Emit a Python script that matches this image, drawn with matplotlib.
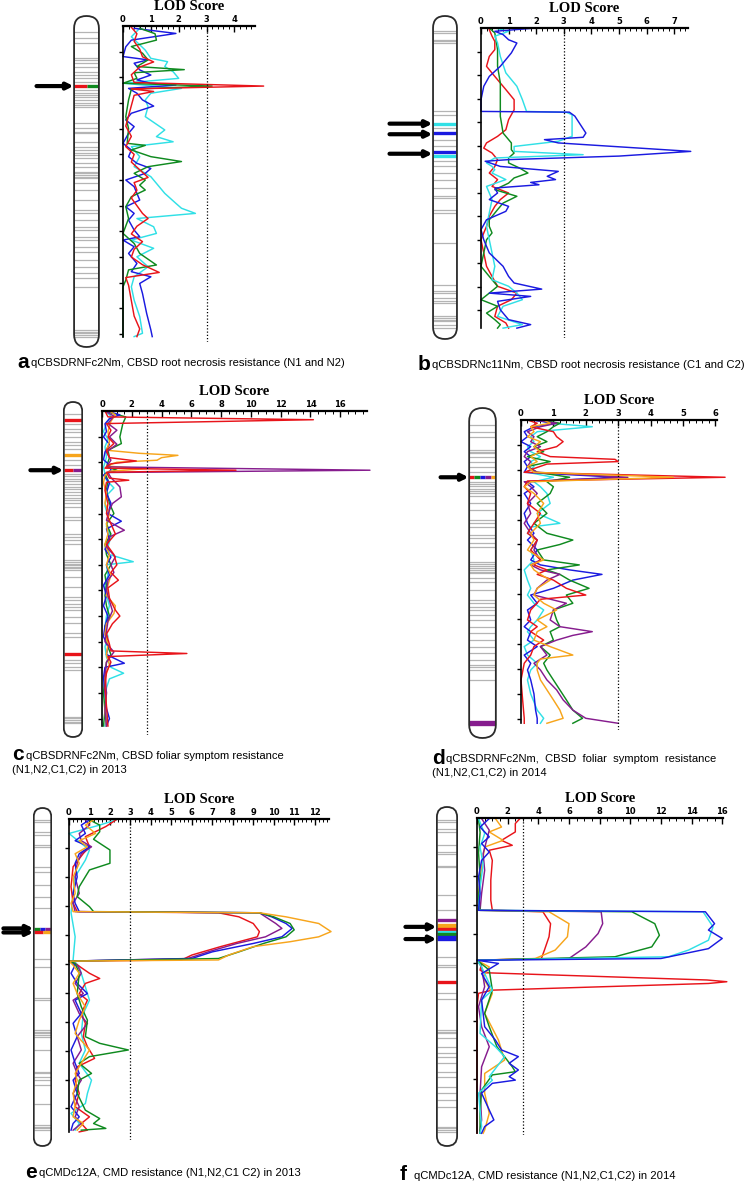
import matplotlib
matplotlib.use('Agg')
import matplotlib.pyplot as plt
from matplotlib.patches import FancyBboxPatch
from matplotlib.ticker import MultipleLocator, AutoMinorLocator
import numpy as np

W, H = 750, 1184

RED = '#e8141a'
GREEN = '#0f8a1f'
BLUE = '#1a1ae0'
CYAN = '#30e0e6'
PURPLE = '#861c8e'
ORANGE = '#f7a51c'

# ---- panel a : (cM, LOD) pairs ----
a_red = [(0.5,0.3),(3,0.5),(6,0.4),(9,0.6),(12,0.7),(14,1.1),(16,0.6),(19,0.3),(22,0.4),(23.4,5.05),
         (24.5,0.3),(25.5,1.1),(27,0.4),(31,0.3),(35,0.2),(39,0.1),(43,0.3),(47,0.1),(50,0.4),(53,0.3),
         (56,0.6),(59,0.9),(61,0.4),(64,0.5),(67,0.3),(70,0.5),(73,0.7),(75,0.9),(78,0.5),(81,0.3),
         (84,0.7),(87,0.4),(90,0.3),(93,0.7),(96,1.3),(98,0.1),(101,0.2),(107,0.3),(113,0.4),(118,0.6),(121,0.5)]
a_green = [(0.9,0.6),(3,1.15),(5.5,1.2),(8,0.3),(10.6,0.7),(13.2,0.9),(15.8,0.5),(17,2.2),(18.2,0.4),
           (20.4,0.5),(22.3,0.0),(23.4,3.2),(24.6,0.3),(28.8,0.2),(35.3,0.1),(40,0.2),(45.7,0.15),(46.5,0.8),
           (48.3,0.3),(50.9,1.0),(52.8,2.1),(54.8,0.9),(57.4,0.4),(60,0.8),(62,0.6),(63.9,0.8),(66.5,0.3),
           (70.4,0.1),(75,0.2),(80.8,0.0),(84.7,0.4),(88.6,0.6),(93.1,1.2),(95,0.2),(99,0.1),(101.6,0.0),(121,0.0)]
a_blue = [(0.9,0.4),(2.9,1.9),(5.5,0.3),(8.1,0.1),(11.9,0.0),(13.2,0.9),(14.5,0.4),(17.1,0.6),(19.1,1.0),
          (21.0,0.5),(22.3,1.0),(23.0,1.9),(24.3,0.2),(26.2,0.5),(28.8,0.7),(31.2,1.1),(34.0,0.3),(36.6,0.1),
          (39.2,0.4),(41.8,0.2),(45.7,0.0),(48.3,0.3),(50.9,0.2),(53.5,0.5),(55.5,1.0),(57.4,0.8),(60,0.1),
          (62.6,0.4),(67.8,0.6),(70.4,0.1),(73,0.4),(75.6,0.2),(79.5,0.4),(82.1,0.6),(83.4,0.0),(86,0.4),
          (88.6,0.2),(92.5,0.5),(95.7,0.3),(97.7,1.0),(100.3,0.6),(104.2,0.7),(112,0.85),(118.4,1.0),(121,1.05)]
a_cyan = [(0.9,0.6),(4.2,0.3),(9.4,0.8),(12.6,1.0),(13.9,1.6),(15.8,1.5),(17.8,1.8),(20.4,2.0),(22.3,0.0),
          (24.3,2.1),(26.2,1.0),(28.8,0.8),(31.4,0.9),(35.3,0.8),(40.5,1.5),(43.1,1.2),(45.1,1.8),(47.0,0.3),
          (50.9,0.6),(54.8,0.4),(58.7,1.0),(61.3,1.2),(65.2,1.5),(69.1,1.9),(71.0,2.1),(73.0,2.6),(75.0,0.5),
          (78.2,1.1),(80.8,1.2),(83.4,0.3),(86.6,1.1),(89.9,0.5),(93.8,0.9),(97.7,0.4),(101.6,0.3),(106.8,0.4),
          (113.2,0.6),(119.7,0.7),(121,0.4)]
a_markers = [2.2,4.8,6.8,12.6,13.2,14.5,15.8,17.8,19.1,20.4,21.7,24.9,26,26.9,27.8,28.8,29.9,30.8,31.4,
             37.9,39.9,41.2,41.8,45.1,47.0,48.3,49.6,50.3,51.6,53.5,54.8,56.8,57.4,58.1,58.7,59.4,61.3,63.9,
             67.8,71.7,73.0,75.6,78.2,79.5,82.1,83.4,86.0,87.9,91.2,93.8,96.4,98.3,101.6,118.4,119.1,119.7,120.4,121.0]

# ---- panel b ----
b_red = [(0.7,0.3),(3.5,0.4),(5.7,0.5),(9.2,0.5),(12.1,0.3),(16.3,0.2),(20.6,0.5),(26.2,0.9),(30.5,1.2),
         (34.8,1.2),(39.0,1.0),(43.3,0.9),(46.1,0.6),(48.9,0.2),(51.1,0.1),(53.2,0.4),(56.0,0.6),(58.9,0.5),
         (61.7,0.3),(64.5,0.6),(67.4,0.4),(70.2,1.0),(73.0,0.7),(75.9,0.5),(80.1,0.3),(84.4,0.2),(87.2,0.1),
         (90.1,0.0),(95.7,0.1),(101.4,0.2),(105.7,0.4),(109.9,0.6),(112.8,1.3),(115.6,1.1),(118.4,0.6),
         (122.7,0.5),(125.5,0.9),(127.7,1.0)]
b_green = [(0,0.3),(2.1,0.5),(9.2,0.6),(16.3,0.6),(23.4,0.7),(30.5,0.7),(37.6,0.7),(44.7,0.8),(48.9,1.1),
           (51.8,1.1),(53.2,1.2),(55.3,1.0),(57.4,1.0),(59.6,1.4),(61.7,1.7),(63.8,1.2),(66.0,1.0),(68.8,0.5),
           (71.6,1.3),(74.5,0.8),(77.3,0.6),(81.6,0.3),(84.4,0.3),(87.2,0.4),(90.1,0.2),(95.7,0.1),(101.4,0.0),
           (105.7,0.3),(109.9,0.6),(112.8,0.3),(115.6,0.0),(118.4,0.6),(121.3,0.2),(124.1,0.5),(126.2,0.7),(127.7,0.6)]
b_blue = [(0,2.0),(1.4,0.5),(2.8,0.8),(5.0,1.0),(6.4,1.3),(10.6,1.1),(16.3,0.7),(20.6,0.3),(24.8,0.1),
          (30.5,0.0),(35.5,0.0),(35.8,3.2),(37.5,3.4),(44.7,3.8),(46.5,3.7),(47.5,2.3),(48.9,2.8),(52.5,7.6),
          (54.5,5.0),(56.0,1.0),(56.7,0.15),(58.9,0.7),(61.0,2.8),(63.1,2.4),(64.5,2.7),(65.7,1.8),(66.7,2.1),
          (68.1,0.5),(70.2,0.6),(73.0,0.3),(75.9,1.0),(78.0,0.9),(81.6,0.2),(85.8,0.0),(90.1,0.1),(95.7,0.3),
          (101.4,0.8),(105.7,1.0),(108.5,1.2),(111.1,2.2),(112.8,0.3),(114.2,1.8),(116.3,0.6),(119.9,0.7),
          (124.1,1.0),(126.2,1.8),(127.7,1.3)]
b_cyan = [(0,0.5),(1.4,1.0),(3.5,0.5),(6.4,0.6),(12.1,0.7),(19.1,0.9),(24.8,1.3),(30.5,1.5),(35.5,1.65),
          (35.9,3.1),(36.9,3.3),(46.1,3.3),(48.2,2.8),(50.4,1.2),(52.5,1.2),(53.9,3.7),(55.3,0.5),(57.4,0.2),
          (58.9,0.4),(60.3,0.5),(61.7,0.4),(64.5,0.9),(67.4,0.2),(70.2,0.3),(73.0,0.4),(78.7,0.3),(84.4,0.2),
          (90.1,0.3),(95.7,0.4),(101.4,0.5),(107.1,0.4),(109.9,1.0),(112.8,1.3),(115.6,1.5),(118.4,0.8),
          (122.7,0.6),(126.2,1.5),(127.7,0.8)]
b_markers = [1.4,2.1,5.0,5.7,6.4,35.5,36.9,42.6,47.5,50.4,56.7,58.9,61.7,64.5,68.1,71.6,72.3,77.3,78.7,
             91.5,109.2,112.1,112.8,114.9,116.3,117.0,122.7,123.4,124.1,124.8,126.2,127.7]

# ---- panel c ----
c_red = [(0,0.2),(2.3,0.4),(3.4,14.2),(4.9,0.3),(7.5,0.6),(10.1,0.4),(12.7,0.8),(15.3,0.3),(18.2,0.5),
         (19.5,2.3),(20.6,0.6),(22.3,0.2),(23.1,9.0),(23.9,0.3),(26.2,0.5),(27.0,1.8),(27.8,0.3),(31,0.2),
         (36.1,0.4),(40,0.3),(44,0.6),(48,0.9),(52,0.3),(56,0.8),(60,1.0),(63,0.6),(66,1.1),(69,0.4),(73,0.5),
         (77.7,0.9),(80,1.2),(83,0.7),(87,0.3),(91,0.5),(93.6,0.6),(94.6,5.7),(95.8,0.4),(98,0.6),(102,0.3),
         (108,0.2),(115,0.3),(122.9,0.4)]
c_green = [(0,0.1),(2.3,1.6),(4.9,1.4),(7.5,1.3),(10.1,1.2),(12.7,1.3),(15.3,0.4),(18.2,0.5),(21.8,0.3),
           (23.1,1.0),(24.4,0.2),(27,0.4),(31,0.3),(36,0.5),(40,0.8),(44,0.3),(48,0.6),(52,0.2),(56,0.3),
           (60,0.6),(64,0.2),(68,0.3),(72,0.2),(76,0.3),(80,0.5),(84,0.2),(88,0.3),(92,0.4),(95,0.6),(98,0.3),
           (103,0.2),(110,0.1),(117,0.2),(122.9,0.1)]
c_blue = [(0,0.3),(1.5,1.2),(3,0.5),(5,0.2),(8,0.3),(10.1,0.1),(13,0.5),(16,0.2),(19,0.1),(21,0.5),(23.1,0.6),
          (25,0.1),(28,0.5),(32,0.3),(36,0.6),(40,0.4),(43,1.3),(46,0.3),(50,0.5),(54,0.2),(57,0.6),(60,0.3),
          (64,0.5),(68,0.1),(72,0.3),(76,0.1),(80,0.4),(84,0.2),(88,0.1),(92,0.4),(95,0.3),(98.4,1.5),(100,0.2),
          (104,0.1),(110,0.2),(116,0.3),(120,0.5),(122.9,0.3)]
c_cyan = [(0,0.2),(2,0.6),(5,0.3),(8,0.1),(11,0.4),(14,0.2),(18,0.3),(22,0.1),(24.4,0.2),(27,0.3),(30,0.8),
          (33,0.3),(37,0.2),(41,0.4),(45,0.3),(49,0.6),(53,0.4),(56,0.5),(58.8,2.1),(60,0.3),(64,0.4),(68,0.2),
          (72,0.3),(76,0.5),(80,0.3),(84,0.2),(88,0.4),(92,0.2),(96,0.3),(100,0.6),(102.3,1.45),(104.5,0.5),
          (108,0.3),(114,0.2),(120,0.3),(122.9,0.2)]
c_purple = [(0,0.2),(2,0.8),(4.9,0.4),(7.5,1.0),(10.1,0.5),(13,1.0),(16,0.3),(19.2,0.6),(21.8,0.3),(23.1,18.0),
            (24.0,0.4),(26,0.6),(29.6,1.2),(33.5,1.3),(36.1,0.7),(38.7,0.5),(42.6,0.3),(46.5,1.5),(49.1,0.5),
            (53,0.3),(56.9,0.9),(60,0.6),(63,0.8),(66,0.4),(70,0.3),(74,0.5),(78,0.7),(82,0.4),(86,0.3),(90,0.2),
            (94,0.8),(98,0.3),(103,0.2),(110,0.3),(117,0.2),(122.9,0.3)]
c_orange = [(0,0.5),(1.5,0.9),(4,0.6),(8,0.4),(12,0.5),(15.3,0.3),(16.5,2.5),(17.3,5.1),(18.2,4.0),(19.2,3.7),
            (20.0,1.0),(21.5,0.3),(22.5,3.0),(23.5,0.5),(25,0.2),(28,0.1),(32,0.3),(36,0.2),(40,0.5),(44,0.3),
            (48,0.4),(52,0.2),(56,0.5),(60,0.3),(64,0.6),(68,0.4),(72,0.3),(76,0.9),(79,0.8),(83,0.3),(87,0.2),
            (91,0.4),(95,0.3),(99,0.5),(104,0.2),(110,0.3),(117,0.2),(122.9,0.3)]
c_markers = [1.0,4.9,6.9,8.2,10.1,12.1,13.4,14.7,19.2,21.2,24.4,25.5,26.5,27.5,28.6,29.6,30.6,31.7,32.7,33.8,
             34.8,35.8,37.4,41.3,42.6,47.8,49.1,50.4,51.7,58.2,58.8,59.5,60.1,60.8,61.4,62.1,64.7,68.6,72.5,
             73.8,75.1,76.4,77.7,80.3,82.9,86.8,88.1,97.1,98.4,99.7,101.0,119.2,119.9,120.5,121.2,121.8]

# ---- panel d ----
d_red = [(0,0.2),(1.3,0.5),(2.7,0.3),(4.7,1.0),(6.7,1.1),(8.7,1.3),(10.7,1.1),(12.7,0.5),(14.7,0.9),(15.8,2.9),
         (16.7,3.0),(17.7,0.8),(19.5,0.4),(21,0.1),(23.0,6.3),(24.5,0.2),(26.8,0.1),(29.5,0.3),(33.5,0.2),
         (37.5,0.6),(41.5,0.4),(45.5,0.2),(48.2,0.5),(52.2,0.3),(56.2,0.6),(58.2,0.4),(60.2,0.8),(62,0.5),
         (64.3,1.0),(67.6,1.4),(70.3,2.0),(72,0.6),(76.3,0.3),(80.3,0.2),(83,0.5),(85,0.3),(88.4,0.7),(91,0.4),
         (94.4,0.3),(97.7,0.1),(104.4,0.0),(112.4,0.05),(119.8,0.1),(121.8,0.1)]
d_green = [(0,0.6),(1.3,1.2),(2.7,1.0),(4.7,0.8),(6.7,0.5),(8.7,0.8),(10.7,0.4),(12.7,0.7),(14.7,0.2),(16.7,0.9),
           (18.7,0.2),(21,0.5),(23.0,1.5),(24.8,0.8),(26.8,1.0),(29.5,0.9),(33.5,0.5),(37.5,0.8),(41.5,0.4),
           (45.5,0.8),(48.2,1.6),(50,1.2),(52.2,0.5),(56.2,0.7),(58.2,1.8),(60.2,0.8),(62,1.2),(64.3,1.5),
           (67.6,2.1),(70.3,1.4),(73.6,1.6),(76.3,1.0),(80.3,1.1),(83,1.2),(85,0.9),(88.4,1.0),(91,0.6),(94.4,0.9),
           (97.7,0.7),(100.4,0.8),(104.4,1.0),(108.4,1.2),(112.4,1.4),(116.5,1.6),(119.8,1.9),(121.8,1.6)]
d_blue = [(0,0.3),(1.3,1.1),(2.7,0.4),(4.7,0.1),(6.7,0.2),(8.7,0.0),(10.7,0.3),(12.7,0.1),(14.7,0.3),(16.7,0.1),
          (18.7,0.2),(21,0.1),(23.0,3.0),(24.8,0.2),(26.8,0.4),(29.5,0.1),(33.5,0.3),(37.5,0.1),(41.5,0.2),
          (45.5,0.4),(48.2,0.2),(52.2,0.5),(56.2,0.3),(58.2,0.6),(60.2,1.5),(62,2.5),(64.3,1.6),(67.6,1.0),
          (70.3,0.3),(73.6,0.5),(76.3,0.2),(80.3,0.3),(83,0.1),(85,0.3),(88.4,0.2),(91,0.5),(94.4,0.1),(97.7,0.3),
          (100.4,0.2),(104.4,0.3),(110,0.4),(116.5,0.45),(119.8,0.5),(121.8,0.5)]
d_cyan = [(0,0.5),(1.3,0.9),(2.7,2.2),(4.7,0.5),(6.7,0.3),(8.7,0.4),(10.7,0.2),(12.7,0.3),(14.7,0.6),(16.7,0.3),
          (18.7,0.4),(21,0.2),(23.0,1.0),(24.8,0.4),(26.8,0.6),(29.5,0.8),(33.5,0.9),(37.5,0.5),(41.5,1.2),
          (43,0.3),(45.5,0.2),(48.2,0.5),(52.2,0.3),(56.2,0.4),(60.2,0.1),(64.3,0.2),(67.6,0.3),(70.3,0.2),
          (73.6,0.4),(76.3,0.7),(80.3,0.5),(83,0.3),(85,0.2),(88.4,0.4),(91,0.1),(94.4,0.2),(97.7,0.5),(100.4,0.3),
          (104.4,0.2),(110,0.3),(116.5,0.5),(119.8,0.7),(121.8,0.6)]
d_purple = [(0,0.4),(1.3,1.1),(2.7,0.6),(4.7,0.2),(6.7,0.4),(8.7,0.3),(10.7,0.6),(12.7,0.2),(14.7,0.1),
            (16.7,0.3),(18.7,0.2),(21,0.5),(23.0,3.3),(24.8,0.1),(26.8,0.3),(29.5,0.5),(33.5,0.2),(37.5,0.3),
            (41.5,0.1),(45.5,0.3),(48.2,0.5),(52.2,0.4),(56.2,0.6),(58.2,0.3),(60.2,0.6),(62,1.2),(64.3,0.8),
            (67.6,0.5),(70.3,0.4),(73.6,1.4),(76.3,1.0),(80.3,0.9),(83,1.2),(85,2.2),(86.5,1.6),(88.4,1.1),
            (91,0.6),(94.4,0.8),(97.7,0.4),(100.4,0.6),(104.4,0.8),(108.4,1.1),(112.4,1.3),(116.5,1.6),
            (119.8,2.0),(121.8,3.0)]
d_orange = [(0,0.7),(1.3,0.9),(2.7,0.3),(4.7,0.4),(6.7,0.2),(8.7,0.6),(10.7,0.4),(12.7,0.6),(14.7,0.3),
            (16.7,0.5),(18.7,0.2),(21,0.4),(23.0,4.7),(24.8,0.3),(26.8,0.1),(29.5,0.4),(33.5,0.7),(37.5,0.5),
            (41.5,0.6),(45.5,0.3),(48.2,0.4),(52.2,0.2),(56.2,0.7),(58.2,0.3),(60.2,0.4),(62,0.6),(64.3,0.9),
            (67.6,0.5),(70.3,0.4),(73.6,0.7),(76.3,1.1),(80.3,0.5),(83,0.8),(85,0.5),(88.4,0.4),(91,0.9),
            (94.4,1.6),(96,0.6),(97.7,0.5),(100.4,0.5),(104.4,0.6),(108.4,0.8),(112.4,1.0),(116.5,1.2),
            (119.8,1.3),(121.8,0.8)]
d_markers = [2.0,4.7,6.7,12.0,12.7,13.4,14.7,16.7,18.7,20.7,24.8,25.7,26.6,27.6,28.5,29.5,30.4,33.5,36.1,
             40.2,41.5,42.8,46.2,47.5,49.5,50.9,56.9,57.7,58.5,59.3,60.1,60.9,61.6,63.6,65.0,68.3,72.3,73.6,
             75.0,76.3,78.3,80.3,83.0,85.7,88.4,91.0,93.7,96.4,98.4,99.1,100.4,104.4]

# ---- panel e ----
e_red = [(0.3,2.3),(2.6,1.8),(6.1,0.8),(9.6,1.0),(11.9,0.7),(16.5,0.2),(23.4,0.1),(29.1,0.2),(32.0,0.4),
         (32.4,7.3),(33.8,8.3),(36.1,9.0),(38.9,9.3),(40.7,9.2),(44.1,7.4),(47,6.0),(48.7,5.5),(49.1,0.0),
         (49.9,0.3),(53.3,1.0),(55.1,1.5),(56.8,0.8),(60.3,0.5),(62.6,0.9),(67.2,0.6),(70.6,0.8),(75.2,0.7),
         (78.7,0.9),(82.7,1.25),(85.6,0.4),(90.2,0.3),(94.8,0.5),(99.4,0.3),(102.9,1.0),(105.2,0.6),(107.5,0.9),(108.1,0.5)]
e_green = [(0.3,1.0),(2.1,1.5),(4.4,1.5),(7,1.2),(10.7,2.0),(15.3,2.0),(17.6,1.0),(23.4,0.5),(26.8,0.4),
           (30.3,1.0),(32.0,1.2),(32.4,9.3),(33.8,10.0),(36.1,10.8),(38.3,11.0),(40.7,10.6),(43,9.5),(45.9,8.3),
           (48.2,7.3),(49.1,0.0),(49.9,0.3),(53.3,0.5),(60.3,0.4),(64.9,0.6),(69.5,0.9),(75.2,0.8),(77.5,1.5),
           (79.8,2.9),(82.1,1.0),(84.4,0.5),(87.9,1.1),(90.2,0.5),(94.8,0.4),(100.6,0.8),(103.5,1.5),(105.2,1.2),
           (106.9,1.8),(107.5,0.6)]
e_blue = [(0.3,1.0),(2.1,0.6),(5.0,0.8),(7.5,0.3),(9.6,1.0),(12,0.5),(15.3,0.3),(20,0.4),(25.7,0.2),(29.1,0.3),
          (32.0,0.5),(32.4,9.3),(33.8,9.9),(36.1,10.6),(37.8,10.9),(40.7,10.4),(43,9.0),(45.9,7.0),(48.2,6.0),
          (49.1,0.0),(50.5,0.3),(53.3,0.1),(56.8,0.4),(60.3,0.9),(62.6,0.3),(67.2,0.6),(70.6,0.2),(75.2,0.4),
          (79.8,0.1),(84.4,0.3),(87.9,0.5),(90.2,0.2),(94.8,0.4),(99.4,0.1),(102.9,0.5),(105.2,0.2),(107.5,0.1)]
e_cyan = [(0.3,2.3),(2.1,1.5),(5.0,0.0),(10.7,1.0),(14.2,0.8),(16.5,0.6),(19.9,0.3),(25.7,0.2),(32.4,0.1),
          (40.7,0.3),(48.7,0.2),(51.0,0.5),(58.0,0.8),(62.6,1.0),(67.2,0.7),(74.1,0.6),(79.8,0.8),(84.4,0.5),
          (90.2,1.1),(94.8,0.9),(98.3,0.8),(101.7,0.1),(105.2,0.5),(107.5,0.3)]
e_purple = [(0.3,0.8),(2.1,1.0),(5.0,0.5),(7.5,0.6),(9.6,1.1),(12,0.6),(15.3,0.4),(20,0.3),(25.7,0.5),(29.1,0.2),
            (32.0,0.3),(32.4,9.3),(33.8,9.6),(36.1,10.1),(37.8,10.4),(40.7,9.6),(43,8.2),(45.9,6.8),(48.2,5.8),
            (49.1,0.0),(50.5,0.4),(53.3,0.6),(56.8,0.3),(60.3,0.7),(62.6,0.2),(67.2,0.5),(70.6,0.9),(75.2,0.4),
            (79.8,0.6),(84.4,0.2),(87.9,0.4),(90.2,0.6),(94.8,0.2),(99.4,0.5),(102.9,0.3),(105.2,0.6),(107.5,0.2)]
e_orange = [(0.3,1.2),(2.1,0.8),(5.0,1.3),(7.5,0.5),(9.6,0.9),(12,0.3),(15.3,0.5),(20,0.2),(25.7,0.3),(29.1,0.1),
            (32.0,0.2),(32.4,9.3),(33.8,10.6),(36.1,12.2),(38.9,12.8),(40.7,12.2),(42.4,10.8),(44.1,9.0),(47,7.8),
            (48.7,7.3),(49.1,0.0),(50.5,0.2),(53.3,0.5),(56.8,0.2),(60.3,0.4),(64.9,0.8),(69.5,0.5),(74.1,0.3),
            (79.8,1.0),(82.1,0.8),(84.4,0.6),(87.9,0.3),(90.2,0.4),(94.8,0.2),(99.4,0.3),(102.9,0.2),(105.2,0.7),(107.5,0.4)]
e_markers = [0.3,0.9,4.4,5.5,9.0,9.6,16.5,18.2,22.8,26.8,30.9,48.2,51.0,62.0,62.6,72.9,73.5,74.1,74.7,75.2,
             79.8,87.3,87.9,89.1,90.2,91.9,98.3,105.8,106.3,106.9,107.5]

# ---- panel f ----
f_red = [(0.2,2.8),(1.9,2.5),(4.8,2.5),(7.7,1.6),(9.4,2.3),(11.1,0.8),(14.6,1.0),(21.4,0.9),(28.3,0.9),(31.8,1.0),
         (32.3,4.3),(36.4,4.8),(40.9,4.7),(45.5,4.4),(48.4,4.2),(49.0,0.0),(50.1,0.3),(52.4,0.2),(53.3,0.5),
         (55.8,15.0),(56.4,16.3),(57.0,15.1),(59.3,1.0),(60.4,0.1),(65,0.0),(80,0.0),(95,0.0),(108.6,0.0)]
f_green = [(0.2,0.1),(5,0.2),(12,0.1),(20,0.2),(28,0.1),(31.8,0.2),(32.3,10.1),(36.4,11.6),(40.4,11.9),
           (44.4,11.4),(47.8,9.0),(49.0,0.0),(52.4,0.8),(59.3,1.0),(67.3,0.5),(71.9,0.8),(78.8,1.3),(85.7,2.3),
           (87.4,2.5),(88.5,1.0),(93.7,0.3),(101.7,0.2),(108.6,0.2)]
f_blue = [(0.2,0.8),(3.1,0.2),(6.5,0.8),(8.8,0.3),(11.7,0.8),(14.6,0.3),(20.3,0.1),(26.0,0.2),(31.8,0.1),
          (32.3,14.9),(36.4,15.5),(38.6,15.1),(41.5,16.0),(45.0,15.1),(48.4,12.0),(49.0,0.0),(50.1,1.4),
          (53.6,0.3),(58.1,0.8),(62.7,0.3),(71.9,0.5),(76.5,1.2),(79.9,1.6),(82.2,2.7),(84.5,2.1),(86.8,2.7),
          (89.1,2.1),(90.3,2.5),(91.4,1.0),(94.8,0.3),(100.6,0.8),(104.0,1.1),(106.3,0.5),(108.6,0.3)]
f_cyan = [(0.2,0.1),(5.4,0.5),(10,0.2),(16,0.4),(24,0.2),(31.8,0.1),(32.3,14.75),(37.5,15.4),(42.1,15.1),
          (45.5,13.8),(47.8,12.5),(49.0,0.0),(51.3,0.3),(59.3,1.0),(62.7,0.3),(74.2,0.2),(78.8,1.2),(82.2,1.8),
          (89.1,0.8),(90.3,1.0),(94.8,0.1),(106.3,0.3),(108.6,0.2)]
f_purple = [(0.2,0.3),(4.2,0.8),(12.3,0.4),(18.0,0.5),(26.0,0.3),(31.8,0.2),(32.3,8.1),(36.4,8.2),(39.8,7.9),
            (44.4,7.1),(48.4,6.0),(49.0,0.0),(51.3,0.3),(58.1,0.5),(65.0,0.1),(71.9,0.3),(78.8,0.8),(85.7,0.3),
            (94.8,0.2),(104.0,0.3),(107.5,0.2),(108.6,0.2)]
f_orange = [(0.2,1.2),(3.1,1.6),(4.8,0.8),(7.7,1.7),(10.0,0.5),(16.9,0.3),(26.0,0.1),(31.8,0.2),(32.3,4.7),
            (36.4,6.0),(40.9,5.9),(45.5,5.1),(48.4,3.8),(49.0,0.0),(51.3,0.8),(55,0.4),(60.4,1.0),(67.3,0.5),
            (76.5,1.4),(83.4,1.8),(88.0,0.5),(94.8,0.5),(101.7,0.8),(107.5,0.5),(108.6,0.4)]
f_markers = [0.6,1.4,3.7,4.8,9.4,11.7,12.3,16.6,16.9,26.6,31.8,47.8,50.7,51.3,60.4,62.2,73.1,73.6,74.2,75.9,
             78.8,81.1,82.2,84.5,87.4,89.1,92.5,94.8,97.1,99.4,106.3,106.9,107.5,108.0]


def px_axes(fig, x0, y0, x1, y1):
    return fig.add_axes([x0 / W, 1 - y1 / H, (x1 - x0) / W, (y1 - y0) / H])


def draw_panel(fig, box, lod_max, cm_max, cm_end, major, series,
               cbox, markers, bands, arrows, arrow_len):
    x0, y0, x1, y1 = box
    ax = px_axes(fig, x0, y0, x1, y1)
    ax.set_xlim(0, lod_max)
    ax.set_ylim(cm_max, 0)
    ax.patch.set_alpha(0)
    for pts, col in series:
        cm, lod = zip(*pts)
        ax.plot(lod, cm, color=col, lw=1.05, clip_on=False)
    ax.axvline(3, color='black', ls=(0, (1, 1.6)), lw=0.9)

    for s in ['right', 'bottom']:
        ax.spines[s].set_visible(False)
    ax.spines['top'].set_linewidth(1.6)
    ax.spines['left'].set_linewidth(1.2)
    ax.spines['left'].set_bounds(0, cm_end)
    ax.xaxis.tick_top()
    ax.xaxis.set_major_locator(MultipleLocator(major))
    ax.xaxis.set_minor_locator(AutoMinorLocator(5 if major == 1 else 4))
    ax.tick_params(axis='x', which='major', direction='in', length=4, width=1, pad=1.5, labelsize=6)
    ax.tick_params(axis='x', which='minor', direction='in', length=2.5, width=0.7)
    for lbl in ax.get_xticklabels():
        lbl.set_fontweight('bold')
    ax.set_yticks(np.arange(10, cm_end, 10))
    ax.tick_params(axis='y', length=3, width=1, labelleft=False)
    ax.annotate('LOD Score', xy=(0.5, 1), xycoords='axes fraction', xytext=(0, 14),
                textcoords='offset points', ha='center', va='center', fontsize=10.5,
                fontweight='bold', family='Liberation Serif')

    # chromosome drawn in its own axes, sharing the cM scale
    cx0, cy0, cx1, cy1 = cbox
    cax = px_axes(fig, cx0, cy0, cx1, cy1)
    s = cm_max / (y1 - y0)
    top = -(y0 - cy0) * s
    bot = cm_max + (cy1 - y1) * s
    cax.set_xlim(0, 1)
    cax.set_ylim(bot, top)
    cax.axis('off')
    asp = s * (cx1 - cx0)
    body = FancyBboxPatch((0.04, top + s), 0.92, bot - top - 2 * s,
                          boxstyle='round,pad=0,rounding_size=0.46', mutation_aspect=asp,
                          fc='white', ec='none')
    cax.add_patch(body)
    ml = cax.hlines(markers, 0.04, 0.96, color='#b4b4b4', lw=0.9)
    ml.set_clip_path(body)
    for yc, cols in bands:
        n = len(cols)
        for i, col in enumerate(cols):
            bl = cax.hlines(yc, 0.04 + 0.92 * i / n, 0.04 + 0.92 * (i + 1) / n, color=col, lw=2.4)
            bl.set_clip_path(body)
    outline = FancyBboxPatch((0.04, top + s), 0.92, bot - top - 2 * s,
                             boxstyle='round,pad=0,rounding_size=0.46', mutation_aspect=asp,
                             fc='none', ec='#2a2a2a', lw=1.3, zorder=5)
    cax.add_patch(outline)
    for yc in arrows:
        cax.annotate('', xy=(0.02, yc), xycoords=cax.get_yaxis_transform(),
                     xytext=(-arrow_len * 0.72, 0), textcoords='offset points',
                     arrowprops=dict(arrowstyle='-|>', lw=3, color='black',
                                     mutation_scale=9, shrinkA=0, shrinkB=0))
    return ax


fig = plt.figure(figsize=(W / 100, H / 100), dpi=100)

draw_panel(fig, (123, 26, 255, 342), 4.74, 123.1, 121, 1,
           [(a_cyan, CYAN), (a_blue, BLUE), (a_green, GREEN), (a_red, RED)],
           (73, 15, 100, 348), a_markers, [(23.4, [RED, GREEN])], [23.4], 37)

draw_panel(fig, (481, 28, 688, 338), 7.5, 131.9, 127.7, 1,
           [(b_red, RED), (b_green, GREEN), (b_cyan, CYAN), (b_blue, BLUE)],
           (432, 15, 458, 340), b_markers,
           [(40.7, [CYAN]), (44.7, [BLUE]), (52.9, [BLUE]), (54.3, [CYAN])],
           [40.7, 45.2, 53.5], 43)

draw_panel(fig, (102, 411, 367, 735), 17.8, 126.4, 122.9, 2,
           [(c_cyan, CYAN), (c_green, GREEN), (c_blue, BLUE), (c_orange, ORANGE), (c_purple, PURPLE), (c_red, RED)],
           (63, 401, 83, 738), c_markers,
           [(3.4, [RED]), (17.3, [ORANGE]), (23.1, [RED, PURPLE]), (94.9, [RED])],
           [23.1], 33)

draw_panel(fig, (521, 420, 717, 730), 6.05, 124.5, 121.8, 1,
           [(d_cyan, CYAN), (d_blue, BLUE), (d_green, GREEN), (d_purple, PURPLE), (d_red, RED), (d_orange, ORANGE)],
           (468, 407, 497, 739), d_markers,
           [(23.0, [RED, GREEN, BLUE, PURPLE, ORANGE]), (121.4, [PURPLE]), (122.2, [PURPLE])],
           [23.0], 28)

draw_panel(fig, (69, 819, 329, 1140), 12.7, 110.9, 108.1, 1,
           [(e_cyan, CYAN), (e_red, RED), (e_purple, PURPLE), (e_blue, BLUE), (e_green, GREEN), (e_orange, ORANGE)],
           (33, 807, 52, 1147), e_markers,
           [(38.0, [GREEN, BLUE, PURPLE]), (39.1, [RED, ORANGE])],
           [37.8, 39.2], 30)

draw_panel(fig, (477, 818, 723, 1135), 16.05, 109.2, 108.6, 2,
           [(f_red, RED), (f_orange, ORANGE), (f_purple, PURPLE), (f_green, GREEN), (f_cyan, CYAN), (f_blue, BLUE)],
           (436, 806, 458, 1147), f_markers,
           [(35.2, [PURPLE]), (37.0, [ORANGE]), (37.6, [ORANGE]), (38.4, [RED]), (39.2, [CYAN]),
            (40.0, [GREEN]), (41.0, [BLUE]), (41.6, [BLUE]), (56.4, [RED])],
           [37.5, 41.7], 31)

# captions
capfont = dict(family='Liberation Sans', fontsize=8.1, va='center')
letfont = dict(family='Liberation Sans', fontsize=15, fontweight='bold', va='center')


def caption(x, y, letter, lines, dx=14):
    fig.text(x / W, 1 - (y - 1) / H, letter, **letfont)
    for i, ln in enumerate(lines):
        xx = x + dx if i == 0 else x
        fig.text(xx / W, 1 - (y + 14 * i) / H, ln, **capfont)


caption(17, 363, 'a', ['qCBSDRNFc2Nm, CBSD root necrosis resistance (N1 and N2)'])
caption(418, 365, 'b', ['qCBSDRNc11Nm, CBSD root necrosis resistance (C1 and C2)'])
caption(12, 756, 'c', ['qCBSDRNFc2Nm, CBSD foliar symptom resistance', '(N1,N2,C1,C2) in 2013'])
caption(432, 759, 'd', ['qCBSDRNFc2Nm,  CBSD  foliar  symptom  resistance', '(N1,N2,C1,C2) in 2014'])
caption(25, 1173, 'e', ['qCMDc12A, CMD resistance (N1,N2,C1 C2) in 2013'])
caption(400, 1176, 'f', ['qCMDc12A, CMD resistance (N1,N2,C1,C2) in 2014'])

fig.savefig('out.png', dpi=100)
